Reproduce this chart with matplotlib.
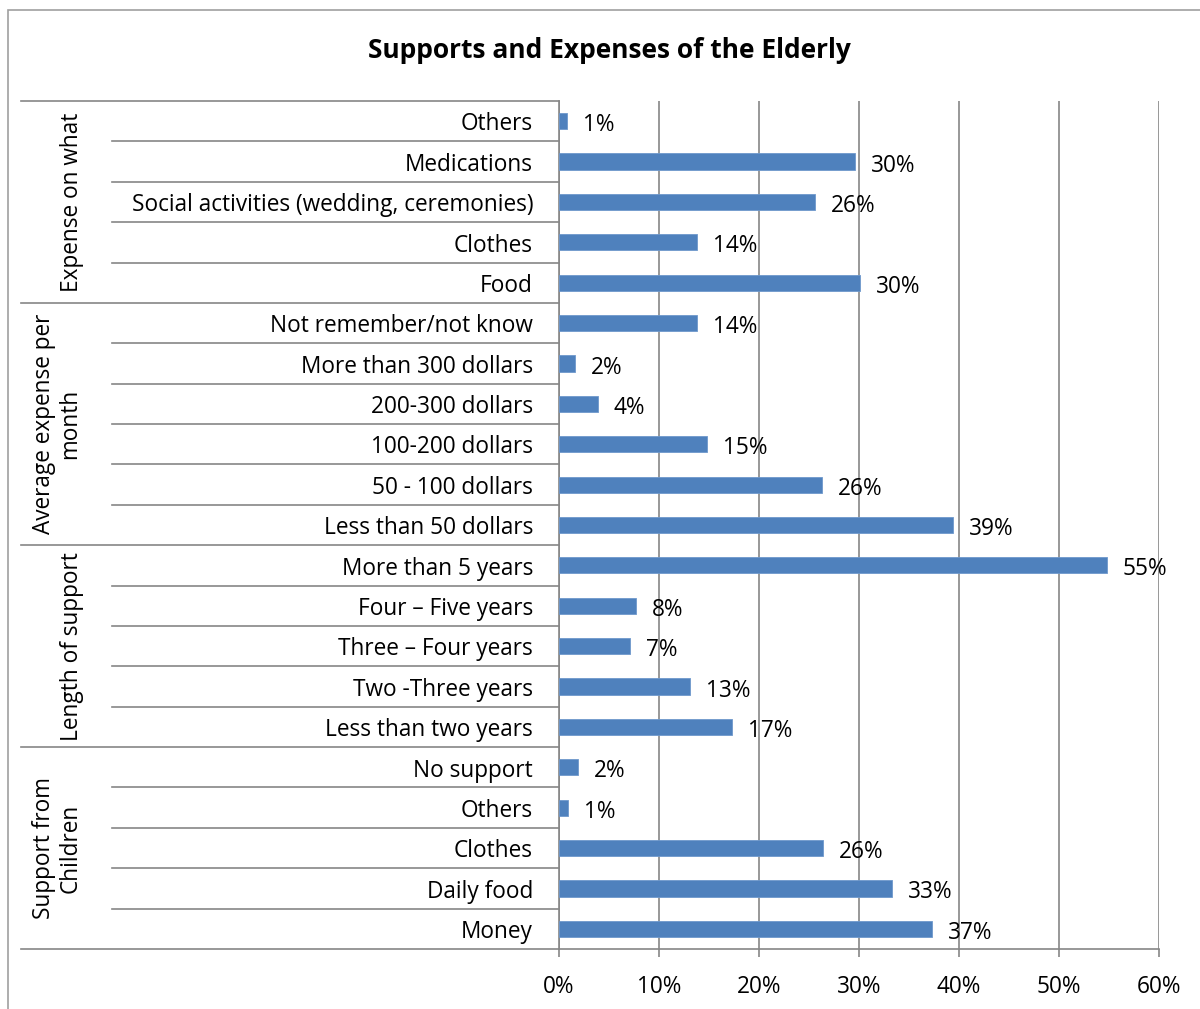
import matplotlib.pyplot as plt
from matplotlib.patches import Rectangle

plt.rcParams['font.family'] = ['Open Sans', 'DejaVu Sans']

# groups listed top to bottom, items inside each group top to bottom
groups = ['Expense on what', 'Average expense per\nmonth', 'Length of support', 'Support from\nChildren']
expense_items = ['Others', 'Medications', 'Social activities (wedding, ceremonies)', 'Clothes', 'Food']
expense_vals = [0.008, 0.296, 0.256, 0.138, 0.301]
monthly_items = ['Not remember/not know', 'More than 300 dollars', '200-300 dollars',
                 '100-200 dollars', '50 - 100 dollars', 'Less than 50 dollars']
monthly_vals = [0.138, 0.016, 0.039, 0.148, 0.263, 0.394]
length_items = ['More than 5 years', 'Four \u2013 Five years', 'Three \u2013 Four years',
                'Two -Three years', 'Less than two years']
length_vals = [0.548, 0.077, 0.071, 0.131, 0.173]
children_items = ['No support', 'Others', 'Clothes', 'Daily food', 'Money']
children_vals = [0.019, 0.009, 0.264, 0.333, 0.373]
xticks = [0, 0.1, 0.2, 0.3, 0.4, 0.5, 0.6]

items = [expense_items, monthly_items, length_items, children_items]
vals = [expense_vals, monthly_vals, length_vals, children_vals]

labels = [s for g in items for s in g]
values = [v for g in vals for v in g]
n = len(labels)
ypos = list(range(n - 1, -1, -1))

W, H = 1200, 1009
fig = plt.figure(figsize=(W / 100, H / 100), dpi=100)
grid_c = '#868686'
fs = 16.3

# chart border (right and bottom edges fall outside the canvas)
fig.patches.append(Rectangle((8 / W, -0.05), 1.2, 1.05 - 10 / H, transform=fig.transFigure,
                             fill=False, edgecolor='#a0a0a0', lw=1.2))

left, right, top, bottom = 559, 1159, 101, 949
ax = fig.add_axes([left / W, 1 - bottom / H, (right - left) / W, (bottom - top) / H])
ax.barh(ypos, values, height=0.4, color='#4f81bd', edgecolor='#6e98cc', lw=0.6, zorder=3)
for y, v in zip(ypos, values):
    ax.text(v + 0.016, y - 0.1, '{:.0%}'.format(v), va='center', ha='left', fontsize=fs, zorder=4)

ax.set_xlim(0, 0.6)
ax.set_ylim(-0.5, n - 0.5)
ax.set_xticks(xticks)
ax.set_xticklabels(['{:.0%}'.format(t) for t in xticks], fontsize=fs)
ax.tick_params(axis='x', length=6, color=grid_c, width=1.2, pad=13)
ax.set_yticks([])
ax.grid(axis='x', color=grid_c, lw=1.2, zorder=0)
for s in ['top', 'right']:
    ax.spines[s].set_visible(False)
for s in ['left', 'bottom']:
    ax.spines[s].set_color(grid_c)
    ax.spines[s].set_linewidth(1.2)

tr = ax.get_yaxis_transform()
x_inner = (112 - left) / (right - left)
x_outer = (21 - left) / (right - left)
x_lab = (533 - left) / (right - left)

# category labels
for y, s in zip(ypos, labels):
    ax.text(x_lab, y - 0.08, s, transform=tr, ha='right', va='center', fontsize=fs, clip_on=False)

# separator lines and group labels
start = 0
for g, its in zip(groups, items):
    top_y = n - 0.5 - start
    ax.plot([x_outer, 0], [top_y, top_y], transform=tr, color=grid_c, lw=1.2, clip_on=False)
    for k in range(1, len(its)):
        yy = top_y - k
        ax.plot([x_inner, 0], [yy, yy], transform=tr, color=grid_c, lw=1.2, clip_on=False)
    mid = top_y - len(its) / 2
    gx = (72 - left) / (right - left) if '\n' not in g else (57 - left) / (right - left)
    ax.text(gx, mid, g, transform=tr, rotation=90, ha='center', va='center',
            fontsize=fs, multialignment='center', linespacing=1.15, clip_on=False)
    start += len(its)
ax.plot([x_outer, 0], [-0.5, -0.5], transform=tr, color=grid_c, lw=1.2, clip_on=False)

fig.text(609 / W, 1 - 50 / H, 'Supports and Expenses of the Elderly', ha='center', va='center',
         fontsize=19, fontweight='bold')

fig.savefig('out.png', dpi=100)
